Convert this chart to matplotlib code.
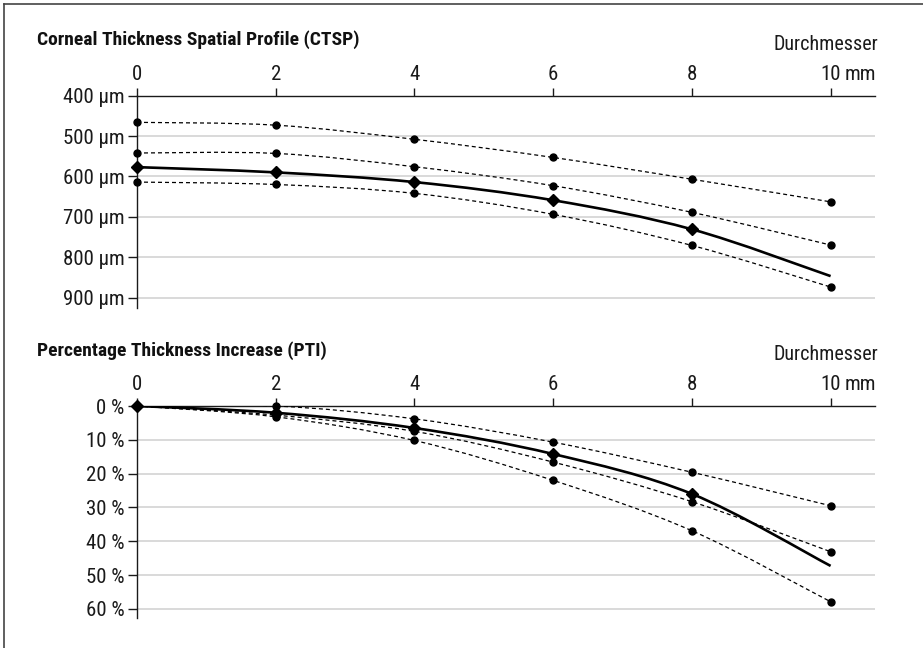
import matplotlib
matplotlib.use("Agg")
import matplotlib.pyplot as plt
from matplotlib.path import Path
from matplotlib.patches import PathPatch
from matplotlib.lines import Line2D

plt.rcParams['font.family'] = ['Roboto Condensed', 'Lato', 'DejaVu Sans']

# Diameter positions (mm)
diameter = [0, 2, 4, 6, 8, 10]
x_ticks = [0, 2, 4, 6, 8, 10]
x_tick_labels = ['0', '2', '4', '6', '8', '10']

# Corneal Thickness Spatial Profile (µm)
ctsp_upper = [466, 473, 508, 553, 607, 663]
ctsp_middle = [542, 543, 576, 623, 689, 770]
ctsp_mean = [577, 590, 614, 659, 731, 847]
ctsp_lower = [614, 620, 642, 694, 771, 874]
ctsp_ticks = [400, 500, 600, 700, 800, 900]
ctsp_tick_labels = ['400 µm', '500 µm', '600 µm', '700 µm', '800 µm', '900 µm']

# Percentage Thickness Increase (%)
pti_upper = [0, 0, 3.8, 10.7, 19.6, 29.5]
pti_middle = [0, 2.7, 7.5, 16.6, 28.3, 43.1]
pti_mean = [0, 2.0, 6.5, 14.2, 26.0, 47.3]
pti_lower = [0, 3.2, 10.2, 22.0, 36.9, 57.9]
pti_ticks = [0, 10, 20, 30, 40, 50, 60]
pti_tick_labels = ['0 %', '10 %', '20 %', '30 %', '40 %', '50 %', '60 %']

W, H = 923, 648
TICK_FS = 15
fig = plt.figure(figsize=(W / 100, H / 100), dpi=100)


def smooth_path(xs, ys):
    """Catmull-Rom spline through the points, as cubic Bezier segments."""
    pts = list(zip(xs, ys))
    n = len(pts)
    verts = [pts[0]]
    codes = [Path.MOVETO]
    for i in range(n - 1):
        p0 = pts[i - 1] if i > 0 else pts[i]
        p1 = pts[i]
        p2 = pts[i + 1]
        p3 = pts[i + 2] if i + 2 < n else pts[i + 1]
        c1 = (p1[0] + (p2[0] - p0[0]) / 6, p1[1] + (p2[1] - p0[1]) / 6)
        c2 = (p2[0] - (p3[0] - p1[0]) / 6, p2[1] - (p3[1] - p1[1]) / 6)
        verts += [c1, c2, p2]
        codes += [Path.CURVE4] * 3
    return Path(verts, codes)


def px_rect(left, top, right, bottom):
    return [left / W, 1 - bottom / H, (right - left) / W, (bottom - top) / H]


def setup_axes(ax, ylim, yticks, ylabels):
    ax.set_xlim(0, 10.64)
    ax.set_ylim(*ylim)
    ax.set_xticks(x_ticks)
    ax.set_xticklabels(x_tick_labels)
    ax.set_yticks(yticks)
    ax.set_yticklabels(ylabels)
    ax.xaxis.tick_top()
    for s in ['bottom', 'right']:
        ax.spines[s].set_visible(False)
    for s in ['top', 'left']:
        ax.spines[s].set_linewidth(1.0)
        ax.spines[s].set_color('#1a1a1a')
    ax.tick_params(axis='x', direction='out', length=6, width=1.0,
                   pad=2.5, labelsize=TICK_FS, colors='#1a1a1a')
    ax.tick_params(axis='y', direction='out', length=6.5, width=1.0,
                   pad=2.5, labelsize=TICK_FS, colors='#1a1a1a')
    ax.grid(axis='y', color='#d0d0d0', linewidth=1.1, zorder=0)
    ax.set_axisbelow(True)
    ax.annotate('mm', xy=(10, 1), xycoords=('data', 'axes fraction'),
                xytext=(10, 2.5 + 6), textcoords='offset points',
                ha='left', va='bottom', fontsize=TICK_FS, color='#1a1a1a')


def draw_series(ax, dashed_sets, mean):
    for ys in dashed_sets:
        ax.add_patch(PathPatch(smooth_path(diameter, ys), fill=False,
                               edgecolor='black', linewidth=0.9,
                               linestyle=(0, (3.2, 2.4)), zorder=3))
        ax.plot(diameter, ys, linestyle='none', marker='o', markersize=5,
                color='black', zorder=4, clip_on=False)
    ax.add_patch(PathPatch(smooth_path(diameter, mean), fill=False,
                           edgecolor='black', linewidth=1.9,
                           capstyle='butt', zorder=5))
    ax.plot(diameter[:-1], mean[:-1], linestyle='none', marker='D',
            markersize=6, color='black', zorder=6, clip_on=False)


# Corneal thickness panel
ax1 = fig.add_axes(px_rect(137, 95.7, 875, 308))
setup_axes(ax1, (926, 400), ctsp_ticks, ctsp_tick_labels)
draw_series(ax1, [ctsp_upper, ctsp_middle, ctsp_lower], ctsp_mean)

# Percentage thickness increase panel
ax2 = fig.add_axes(px_rect(137, 406, 875, 618.3))
setup_axes(ax2, (62.8, 0), pti_ticks, pti_tick_labels)
draw_series(ax2, [pti_upper, pti_middle, pti_lower], pti_mean)

# Panel headings
fig.text(37 / W, 1 - 45 / H, 'Corneal Thickness Spatial Profile (CTSP)',
         fontsize=14, fontweight='bold', ha='left', va='baseline',
         color='#111111')
fig.text(878 / W, 1 - 49.5 / H, 'Durchmesser', fontsize=14.5,
         ha='right', va='baseline', color='#1a1a1a')
fig.text(37 / W, 1 - 356 / H, 'Percentage Thickness Increase (PTI)',
         fontsize=14, fontweight='bold', ha='left', va='baseline',
         color='#111111')
fig.text(878 / W, 1 - 360 / H, 'Durchmesser', fontsize=14.5,
         ha='right', va='baseline', color='#1a1a1a')

# Outer frame (left and top edges)
fig.add_artist(Line2D([3.5 / W, 3.5 / W], [0, 1 - 3.5 / H],
                      transform=fig.transFigure, color='#444444',
                      linewidth=1.2))
fig.add_artist(Line2D([3.5 / W, 1], [1 - 3.5 / H, 1 - 3.5 / H],
                      transform=fig.transFigure, color='#444444',
                      linewidth=1.2))

fig.savefig('out.png', dpi=100)
